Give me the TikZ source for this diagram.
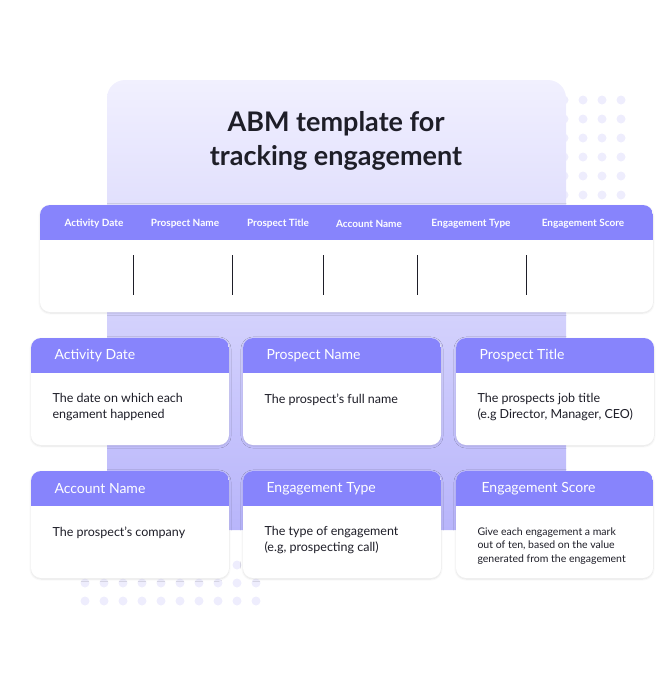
\documentclass[tikz,border=0pt]{standalone}
\usepackage{fontspec}
\setmainfont{Lato}
\usetikzlibrary{shadows.blur}
\definecolor{hdr}{HTML}{8784FC}
\definecolor{lav}{HTML}{B8B5FB}
\definecolor{lavlight}{HTML}{F1F0FE}
\definecolor{dotc}{HTML}{EEEDFD}
\definecolor{ink}{HTML}{1E1E28}
\begin{document}
\begin{tikzpicture}[x=1pt,y=-1pt,
  card/.style={fill=white,rounded corners=10pt,blur shadow={shadow blur steps=8,shadow xshift=0pt,shadow yshift=-1pt,shadow opacity=12}},
  hlab/.style={text=white,font=\fontsize{10}{12}\selectfont\bfseries,anchor=center},
  ctitle/.style={text=white,font=\fontsize{14}{16}\selectfont,anchor=west},
  cbody/.style={text=ink,font=\fontsize{12.5}{16}\selectfont,anchor=north west,align=left},
  dot/.style={fill=dotc,draw=none}]
\useasboundingbox (0,0) rectangle (672,697);
% dots
\foreach \i in {0,...,4} \foreach \j in {0,...,5}
  \fill[dotc] (545+\i*19,100+\j*19) circle (4.5);
\foreach \i in {0,...,9} \foreach \j in {0,...,2}
  \fill[dotc] (85+\i*19,565+\j*18) circle (4.5);
% background panel
\shade[rounded corners=18pt,top color=lavlight,bottom color=lav] (107,80) rectangle (566,530);
\fill[white,rounded corners=18pt,opacity=0.0] (107,80) rectangle (566,200);
% title
\node[font=\fontsize{27}{34}\selectfont\bfseries,text=ink,align=center] (title) at (336,141) {ABM template for\\tracking engagement};
% table
\node[card,minimum width=613pt,minimum height=107pt,inner sep=0pt] (tbl) at (346.5,258.5) {};
\begin{scope}
\clip[rounded corners=10pt] (40,205) rectangle (653,312);
\fill[hdr] (40,205) rectangle (653,240);
\end{scope}
\node[hlab] (h1) at (94,224) {Activity Date};
\node[hlab] (h2) at (185,224) {Prospect Name};
\node[hlab] (h3) at (278,224) {Prospect Title};
\node[hlab] (h4) at (369,224) {Account Name};
\node[hlab] (h5) at (471,224) {Engagement Type};
\node[hlab] (h6) at (583,224) {Engagement Score};
\foreach \x in {133,232,323,417,526} \draw[ink,line width=0.8pt] (\x,255) -- (\x,295);
% cards
\newcommand{\mycard}[5]{%
  \node[card,minimum width=198pt,minimum height=107pt,inner sep=0pt] (#1) at (#2+99,#3+53.5) {};
  \begin{scope}
  \clip[rounded corners=10pt] (#2,#3) rectangle (#2+198,#3+107);
  \fill[hdr] (#2,#3) rectangle (#2+198,#3+35);
  \end{scope}
  \node[ctitle] (#1t) at (#2+20,#3+18) {#4};
  \node[cbody] (#1b) at (#2+18,#3+52) {#5};}
\mycard{c1}{31}{338}{Activity Date}{The date on which each\\engament happened}
\mycard{c2}{243}{338}{Prospect Name}{The prospect’s full name}
\mycard{c3}{456}{338}{Prospect Title}{The prospects job title\\(e.g Director, Manager, CEO)}
\mycard{c4}{31}{471}{Account Name}{The prospect’s company}
\mycard{c5}{243}{471}{Engagement Type}{The type of engagement\\(e.g, prospecting call)}
\node[card,minimum width=197pt,minimum height=107pt,inner sep=0pt] (c6) at (554.5,524.5) {};
\begin{scope}
\clip[rounded corners=10pt] (456,471) rectangle (653,578);
\fill[hdr] (456,471) rectangle (653,506);
\end{scope}
\node[ctitle] (c6t) at (478,489) {Engagement Score};
\node[cbody,font=\fontsize{10.5}{13.5}\selectfont] (c6b) at (474,524) {Give each engagement a mark\\out of ten, based on the value\\generated from the engagement};
\end{tikzpicture}
\end{document}
